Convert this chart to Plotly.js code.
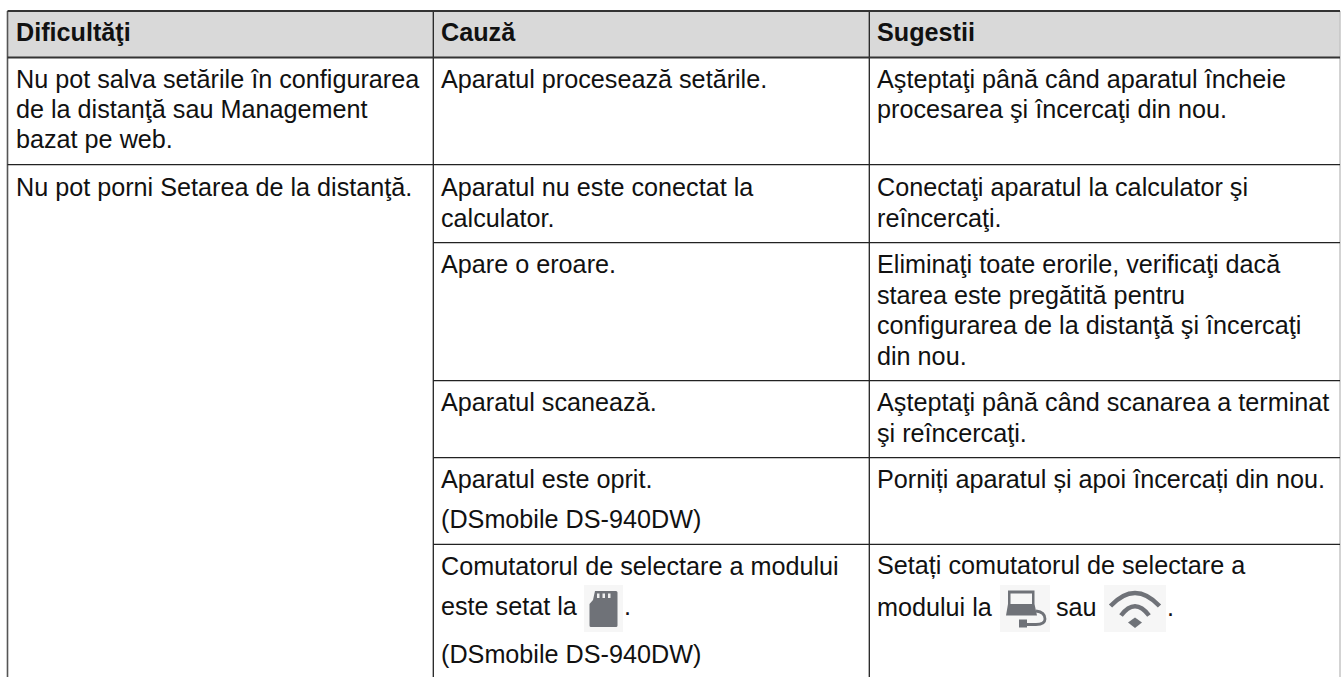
<!DOCTYPE html>
<html><head><meta charset="utf-8">
<script src="https://cdn.plot.ly/plotly-3.0.1.min.js"></script>
<style>html,body{margin:0;padding:0;background:#fff}#c{width:1341px;height:677px}</style></head>
<body><div id="c"></div>
<script>
var colLeft=7.5, colMid=433.3, colRight=869.3, colEnd=1340;
var tableTop=11, headerBottom=57.5, tableBottom=677;
var fullRows=[164.7];
var rightRows=[242.7,380.7,457.7,544.3];

var headerLabels=["Dificultăţi","Cauză","Sugestii"];
var headerX=[16,441,877];
var headerBase=[41,41,41];

var bodyLabels=[
"Nu pot salva setările în configurarea","de la distanţă sau Management","bazat pe web.",
"Nu pot porni Setarea de la distanţă.",
"Aparatul procesează setările.",
"Aparatul nu este conectat la","calculator.",
"Apare o eroare.",
"Aparatul scanează.",
"Aparatul este oprit.","(DSmobile DS-940DW)",
"Comutatorul de selectare a modului","este setat la",".","(DSmobile DS-940DW)",
"Aşteptaţi până când aparatul încheie","procesarea şi încercaţi din nou.",
"Conectaţi aparatul la calculator şi","reîncercaţi.",
"Eliminaţi toate erorile, verificaţi dacă","starea este pregătită pentru","configurarea de la distanţă şi încercaţi","din nou.",
"Aşteptaţi până când scanarea a terminat","şi reîncercaţi.",
"Porniți aparatul și apoi încercați din nou.",
"Setați comutatorul de selectare a","modului la","sau",".",
];
var bodyX=[16,16,16,16,441,441,441,441,441,441,441,441,441,624,441,
877,877,877,877,877,877,877,877,877,877,877,877,877,1056,1167];
var bodyBase=[88,118,148,196,88,196,227,273,411,488,528,575,615,615,663,
88,118,196,227,273,304,334,365,411,442,488,574,616,616,616];

function vOf(b){return b.map(function(v){return v-6;});}

function seg(list){var x=[],y=[];list.forEach(function(s){x.push(s[0],s[2],null);y.push(s[1],s[3],null);});return {x:x,y:y};}
var thick=seg([[colLeft,tableTop,colEnd,tableTop],[colLeft,headerBottom,colEnd,headerBottom]]);
var grid=seg([[colMid,tableTop,colMid,tableBottom],[colRight,tableTop,colRight,tableBottom],
 [colLeft,fullRows[0],colEnd,fullRows[0]]].concat(rightRows.map(function(r){return [colMid,r,colEnd,r];})));
var side=seg([[colLeft,tableTop,colLeft,tableBottom]]);
var rightSide=seg([[colEnd,tableTop,colEnd,tableBottom]]);

var font='"Liberation Sans", Arial, sans-serif';
var traces=[
 {x:rightSide.x,y:rightSide.y,mode:'lines',line:{color:'#c4c4c4',width:1.5},hoverinfo:'skip'},
 {x:side.x,y:side.y,mode:'lines',line:{color:'#555',width:1.6},hoverinfo:'skip'},
 {x:grid.x,y:grid.y,mode:'lines',line:{color:'#222',width:1.3},hoverinfo:'skip'},
 {x:thick.x,y:thick.y,mode:'lines',line:{color:'#333',width:1.8},hoverinfo:'skip'},
 {x:headerX,y:vOf(headerBase),text:headerLabels,mode:'text',textposition:'middle right',
  textfont:{family:font,size:25.2,color:'#111',weight:'bold'},hoverinfo:'skip'},
 {x:bodyX,y:vOf(bodyBase),text:bodyLabels,mode:'text',textposition:'middle right',
  textfont:{family:font,size:25.2,color:'#111'},hoverinfo:'skip'}
];
var ic='#6f7278', bg='#f6f6f6';
function box(x0,y0,x1,y1,c){return {type:'rect',layer:'below',xref:'x',yref:'y',x0:x0,y0:y0,x1:x1,y1:y1,fillcolor:c,line:{width:0}};}
function fillP(p,c){return {type:'path',layer:'below',path:p,fillcolor:c||ic,line:{width:0}};}
function strokeP(p,w){return {type:'path',layer:'below',path:p,fillcolor:'rgba(0,0,0,0)',line:{color:ic,width:w}};}
var shapes=[
 box(colLeft,tableTop,colEnd,headerBottom,'#d9d9d9'),
 box(584,585,623,632,bg),box(1000,585,1050,632,bg),box(1104,585,1166,632,bg),
 fillP('M595,591 L616,591 Q617.5,591 617.5,592.5 L617.5,625.5 Q617.5,627 616,627 L591,627 Q589.5,627 589.5,625.5 L589.5,604 L593,600 Z'),
 box(597,593.5,599.5,598,'#f0f0f0'),box(602.5,593.5,605,598,'#f0f0f0'),box(608,593.5,610.5,598,'#f0f0f0'),
 fillP('M1008,590.5 L1034.5,590.5 L1034.5,604 L1037,615.5 L1006,615.5 L1008,604 Z'),
 fillP('M1010.5,593.5 L1032,593.5 L1032,604 L1010.5,604 Z',bg),
 strokeP('M1036,611 Q1045,612 1045,619 Q1045,624.5 1036,624.5 L1024,624.5',2.8),
 box(1019,619.5,1027,627.5,ic),
 strokeP('M1110.5,606 Q1135,580 1159.5,606',4.5),
 strokeP('M1121,615.5 Q1135,597 1149,615.5',4.5),
 fillP('M1135,617.5 L1142,622.5 L1135,628 L1128,622.5 Z')
];
var layout={width:1341,height:677,margin:{l:0,r:0,t:0,b:0,pad:0},showlegend:false,
 paper_bgcolor:'#fff',plot_bgcolor:'#fff',
 xaxis:{range:[0,1341],visible:false,fixedrange:true},
 yaxis:{range:[677,0],visible:false,fixedrange:true},
 shapes:shapes};
Plotly.newPlot('c',traces,layout,{displayModeBar:false,staticPlot:true});
</script></body></html>
